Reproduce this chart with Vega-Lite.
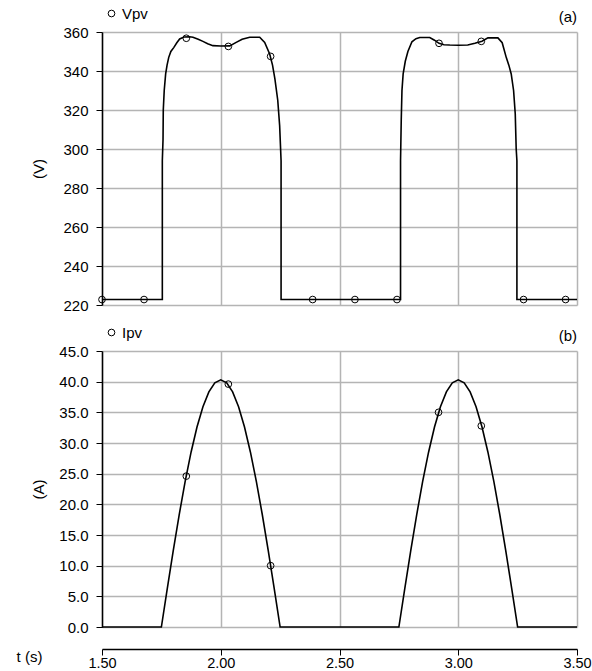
{
  "$schema": "https://vega.github.io/schema/vega-lite/v6.json",
  "background": "white",
  "padding": {"left": 16, "top": 6, "right": 2, "bottom": 2},
  "config": {
    "view": {"stroke": null},
    "font": "Liberation Sans",
    "axis": {
      "labelFont": "Liberation Sans", "labelFontSize": 15, "labelColor": "#000", "labelOverlap": false, "labelFlush": false,
      "titleFont": "Liberation Sans", "titleFontSize": 15, "titleFontWeight": "normal", "titleColor": "#000",
      "domainColor": "#000", "domainWidth": 1.5, "tickColor": "#000", "tickWidth": 1, "tickSize": 6,
      "gridColor": "#b4b4b4", "gridWidth": 1.5, "gridOpacity": 1
    },
    "axisY": {"labelOverlap": false},
    "axisQuantitative": {"labelOverlap": false},
    "title": {"font": "Liberation Sans", "fontSize": 15, "fontWeight": "normal", "color": "#000"}
  },
  "datasets": {
    "vline": [
      {"k": 0, "t": 1.5, "V": 222.8}, {"k": 1, "t": 1.754, "V": 222.8}, {"k": 2, "t": 1.754, "V": 294},
      {"k": 3, "t": 1.757, "V": 305}, {"k": 4, "t": 1.758, "V": 320}, {"k": 5, "t": 1.762, "V": 330},
      {"k": 6, "t": 1.768, "V": 338.5}, {"k": 7, "t": 1.774, "V": 343}, {"k": 8, "t": 1.781, "V": 347},
      {"k": 9, "t": 1.79, "V": 350}, {"k": 10, "t": 1.802, "V": 352}, {"k": 11, "t": 1.815, "V": 354.5},
      {"k": 12, "t": 1.827, "V": 356.4}, {"k": 13, "t": 1.845, "V": 357.4}, {"k": 14, "t": 1.869, "V": 357.6},
      {"k": 15, "t": 1.883, "V": 357.3}, {"k": 16, "t": 1.905, "V": 356.3}, {"k": 17, "t": 1.925, "V": 355.2},
      {"k": 18, "t": 1.945, "V": 354}, {"k": 19, "t": 1.967, "V": 353}, {"k": 20, "t": 2.0, "V": 352.8},
      {"k": 21, "t": 2.038, "V": 352.9}, {"k": 22, "t": 2.065, "V": 354.7}, {"k": 23, "t": 2.09, "V": 356.3},
      {"k": 24, "t": 2.122, "V": 357.3}, {"k": 25, "t": 2.164, "V": 357.3}, {"k": 26, "t": 2.185, "V": 354.7},
      {"k": 27, "t": 2.206, "V": 348.7}, {"k": 28, "t": 2.218, "V": 343}, {"k": 29, "t": 2.228, "V": 336},
      {"k": 30, "t": 2.24, "V": 325}, {"k": 31, "t": 2.248, "V": 312}, {"k": 32, "t": 2.252, "V": 300},
      {"k": 33, "t": 2.254, "V": 294}, {"k": 34, "t": 2.254, "V": 222.8},
      {"k": 35, "t": 2.757, "V": 222.8}, {"k": 36, "t": 2.757, "V": 294}, {"k": 37, "t": 2.76, "V": 315},
      {"k": 38, "t": 2.763, "V": 330}, {"k": 39, "t": 2.768, "V": 338.5}, {"k": 40, "t": 2.777, "V": 345},
      {"k": 41, "t": 2.788, "V": 350}, {"k": 42, "t": 2.805, "V": 355}, {"k": 43, "t": 2.822, "V": 356.6},
      {"k": 44, "t": 2.838, "V": 357.2}, {"k": 45, "t": 2.88, "V": 357.2}, {"k": 46, "t": 2.9, "V": 355.8},
      {"k": 47, "t": 2.919, "V": 354.2}, {"k": 48, "t": 2.94, "V": 353.5}, {"k": 49, "t": 2.964, "V": 353.3},
      {"k": 50, "t": 3.0, "V": 353.2}, {"k": 51, "t": 3.04, "V": 353.3}, {"k": 52, "t": 3.07, "V": 354.2},
      {"k": 53, "t": 3.1, "V": 355.3}, {"k": 54, "t": 3.125, "V": 357}, {"k": 55, "t": 3.167, "V": 357},
      {"k": 56, "t": 3.185, "V": 354.5}, {"k": 57, "t": 3.202, "V": 347}, {"k": 58, "t": 3.213, "V": 343},
      {"k": 59, "t": 3.223, "V": 338.5}, {"k": 60, "t": 3.233, "V": 330}, {"k": 61, "t": 3.24, "V": 318},
      {"k": 62, "t": 3.244, "V": 300}, {"k": 63, "t": 3.247, "V": 294}, {"k": 64, "t": 3.247, "V": 222.8},
      {"k": 65, "t": 3.5, "V": 222.8}
    ],
    "vpts": [
      {"s": "Vpv", "t": 1.5, "V": 222.8}, {"s": "Vpv", "t": 1.677, "V": 222.8}, {"s": "Vpv", "t": 1.855, "V": 356.8},
      {"s": "Vpv", "t": 2.032, "V": 352.6}, {"s": "Vpv", "t": 2.21, "V": 347.5}, {"s": "Vpv", "t": 2.387, "V": 222.8},
      {"s": "Vpv", "t": 2.565, "V": 222.8}, {"s": "Vpv", "t": 2.742, "V": 222.8}, {"s": "Vpv", "t": 2.919, "V": 354.2},
      {"s": "Vpv", "t": 3.097, "V": 355.2}, {"s": "Vpv", "t": 3.275, "V": 222.8}, {"s": "Vpv", "t": 3.452, "V": 222.8}
    ],
    "iline": [
      {"t": 1.5, "I": 0}, {"t": 1.75, "I": 0}, {"t": 1.775, "I": 6.3}, {"t": 1.8, "I": 12.45}, {"t": 1.825, "I": 18.3},
      {"t": 1.85, "I": 23.69}, {"t": 1.875, "I": 28.5}, {"t": 1.9, "I": 32.6}, {"t": 1.925, "I": 35.91}, {"t": 1.95, "I": 38.33},
      {"t": 1.975, "I": 39.8}, {"t": 2.0, "I": 40.3}, {"t": 2.025, "I": 39.8}, {"t": 2.05, "I": 38.33}, {"t": 2.075, "I": 35.91},
      {"t": 2.1, "I": 32.6}, {"t": 2.125, "I": 28.5}, {"t": 2.15, "I": 23.69}, {"t": 2.175, "I": 18.3}, {"t": 2.2, "I": 12.45},
      {"t": 2.225, "I": 6.3}, {"t": 2.25, "I": 0}, {"t": 2.75, "I": 0}, {"t": 2.775, "I": 6.3}, {"t": 2.8, "I": 12.45},
      {"t": 2.825, "I": 18.3}, {"t": 2.85, "I": 23.69}, {"t": 2.875, "I": 28.5}, {"t": 2.9, "I": 32.6}, {"t": 2.925, "I": 35.91},
      {"t": 2.95, "I": 38.33}, {"t": 2.975, "I": 39.8}, {"t": 3.0, "I": 40.3}, {"t": 3.025, "I": 39.8}, {"t": 3.05, "I": 38.33},
      {"t": 3.075, "I": 35.91}, {"t": 3.1, "I": 32.6}, {"t": 3.125, "I": 28.5}, {"t": 3.15, "I": 23.69}, {"t": 3.175, "I": 18.3},
      {"t": 3.2, "I": 12.45}, {"t": 3.225, "I": 6.3}, {"t": 3.25, "I": 0}, {"t": 3.5, "I": 0}
    ],
    "ipts": [
      {"s": "Ipv", "t": 1.855, "I": 24.6}, {"s": "Ipv", "t": 2.032, "I": 39.6}, {"s": "Ipv", "t": 2.21, "I": 10.0},
      {"s": "Ipv", "t": 2.917, "I": 35.0}, {"s": "Ipv", "t": 3.097, "I": 32.8}
    ]
  },
  "bounds": "flush",
  "spacing": 46,
  "resolve": {"scale": {"shape": "independent", "x": "independent"}, "legend": {"shape": "independent"}},
  "vconcat": [
    {
      "width": 475, "height": 273,
      "title": {"text": "(a)", "anchor": "end", "frame": "group", "offset": -19},
      "encoding": {
        "x": {"field": "t", "type": "quantitative", "scale": {"domain": [1.5, 3.5], "nice": false, "zero": false},
              "axis": {"values": [1.5, 2.0, 2.5, 3.0, 3.5], "grid": true, "labels": false, "ticks": false, "domain": false, "title": null}},
        "y": {"field": "V", "type": "quantitative", "scale": {"domain": [220, 360], "nice": false, "zero": false},
              "axis": {"values": [220, 240, 260, 280, 300, 320, 340, 360], "format": "d", "grid": true, "labelPadding": 8, "labelOverlap": false, "labelBound": false,
                       "title": "(V)", "titleX": -64, "titleY": 136.5, "titleAlign": "center", "titleBaseline": "middle", "titleAngle": -90}}
      },
      "layer": [
        {
          "data": {"name": "vline"},
          "mark": {"type": "line", "color": "#000", "strokeWidth": 1.6},
          "encoding": {"order": {"field": "k", "type": "quantitative"}}
        },
        {
          "data": {"name": "vpts"},
          "mark": {"type": "point", "filled": false, "color": "#000", "size": 45, "strokeWidth": 1, "opacity": 1},
          "encoding": {
            "shape": {"field": "s", "type": "nominal", "scale": {"range": ["circle"]},
                      "legend": {"title": null, "orient": "none", "legendX": 2, "legendY": -26, "padding": 0,
                                 "labelFont": "Liberation Sans", "labelFontSize": 15, "labelColor": "#000", "labelOffset": 3,
                                 "symbolStrokeColor": "#000", "symbolFillColor": "transparent", "symbolSize": 45, "symbolStrokeWidth": 1}}
          }
        }
      ]
    },
    {
      "width": 475, "height": 276,
      "title": {"text": "(b)", "anchor": "end", "frame": "group", "offset": -19},
      "encoding": {
        "x": {"field": "t", "type": "quantitative", "scale": {"domain": [1.5, 3.5], "nice": false, "zero": false},
              "axis": {"values": [1.5, 2.0, 2.5, 3.0, 3.5], "format": ".2f", "grid": true, "offset": 22, "labelPadding": 1, "labelOverlap": false, "labelFontSize": 14.5,
                       "title": "t (s)", "titleX": -73, "titleY": 7, "titleAlign": "center", "titleBaseline": "middle", "titleAngle": 0}},
        "y": {"field": "I", "type": "quantitative", "scale": {"domain": [0, 45], "nice": false, "zero": false},
              "axis": {"values": [0, 5, 10, 15, 20, 25, 30, 35, 40, 45], "format": ".1f", "grid": true, "labelPadding": 8, "labelOverlap": false, "labelBound": false,
                       "title": "(A)", "titleX": -64, "titleY": 138, "titleAlign": "center", "titleBaseline": "middle", "titleAngle": -90}}
      },
      "layer": [
        {
          "data": {"name": "iline"},
          "mark": {"type": "line", "color": "#000", "strokeWidth": 1.6}
        },
        {
          "data": {"name": "ipts"},
          "mark": {"type": "point", "filled": false, "color": "#000", "size": 45, "strokeWidth": 1, "opacity": 1},
          "encoding": {
            "shape": {"field": "s", "type": "nominal", "scale": {"range": ["circle"]},
                      "legend": {"title": null, "orient": "none", "legendX": 2, "legendY": -26, "padding": 0,
                                 "labelFont": "Liberation Sans", "labelFontSize": 15, "labelColor": "#000", "labelOffset": 3,
                                 "symbolStrokeColor": "#000", "symbolFillColor": "transparent", "symbolSize": 45, "symbolStrokeWidth": 1}}
          }
        }
      ]
    }
  ]
}
